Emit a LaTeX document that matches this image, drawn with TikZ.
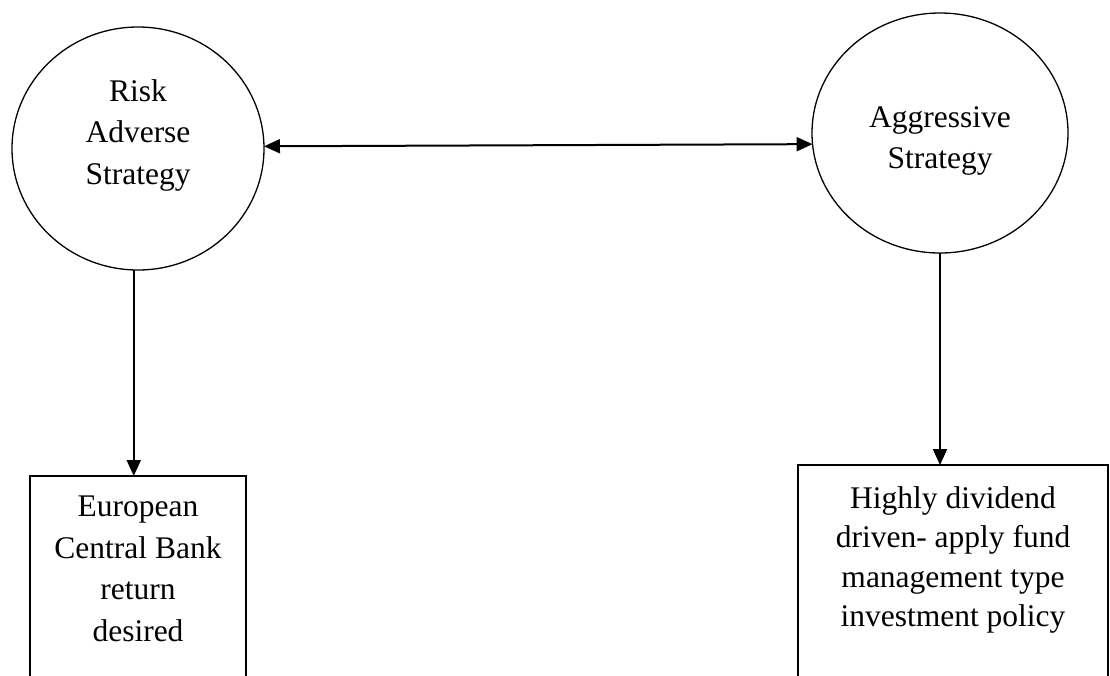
\documentclass[tikz,border=0pt]{standalone}
\usepackage{fontspec}
\setmainfont{Liberation Serif}
\usetikzlibrary{shapes.geometric,arrows.meta}
\tikzset{
  shapeline/.style={draw=black, line width=1.3pt, inner sep=0pt, outer sep=0pt},
  circ/.style={shapeline, ellipse},
  boxnode/.style={shapeline, rectangle},
  lbl/.style={align=center, inner sep=0pt, anchor=north, font=\fontsize{31.5}{41.5}\selectfont},
  conn/.style={line width=2pt, -{Triangle[length=16pt,width=14pt]}},
  biconn/.style={line width=2pt, {Triangle[length=16pt,width=14pt]}-{Triangle[length=16pt,width=14pt]}}
}
\begin{document}
\begin{tikzpicture}[x=1pt,y=-1pt]
\useasboundingbox (0,0) rectangle (1110,675);
\fill[white] (0,0) rectangle (1110,675);
\clip (0,0) rectangle (1110,675);
% shapes
\node[circ, minimum width=252pt, minimum height=243pt] (L) at (138,148.5) {};
\node[circ, minimum width=256pt, minimum height=240pt] (R) at (940,133) {};
\node[boxnode, minimum width=216pt, minimum height=240pt] (LB) at (138,596) {};
\node[boxnode, minimum width=310pt, minimum height=240pt] (RB) at (953,585) {};
% texts
\node[lbl] (Lt) at (138,79) {Risk\\Adverse\\Strategy};
\node[lbl] (Rt) at (940,106) {Aggressive\\Strategy};
\node[lbl] (LBt) at (138,496) {European\\Central Bank\\return\\desired};
\node[lbl, font=\fontsize{31.5}{39.5}\selectfont] (RBt) at (953,486) {Highly dividend\\driven- apply fund\\management type\\investment policy};
% connectors
\draw[biconn] (L.1.3) -- (R.185);
\draw[conn] (L.268) -- (L.268 |- LB.north);
\draw[conn] (R.south) -- (R.south |- RB.north);
\end{tikzpicture}
\end{document}
